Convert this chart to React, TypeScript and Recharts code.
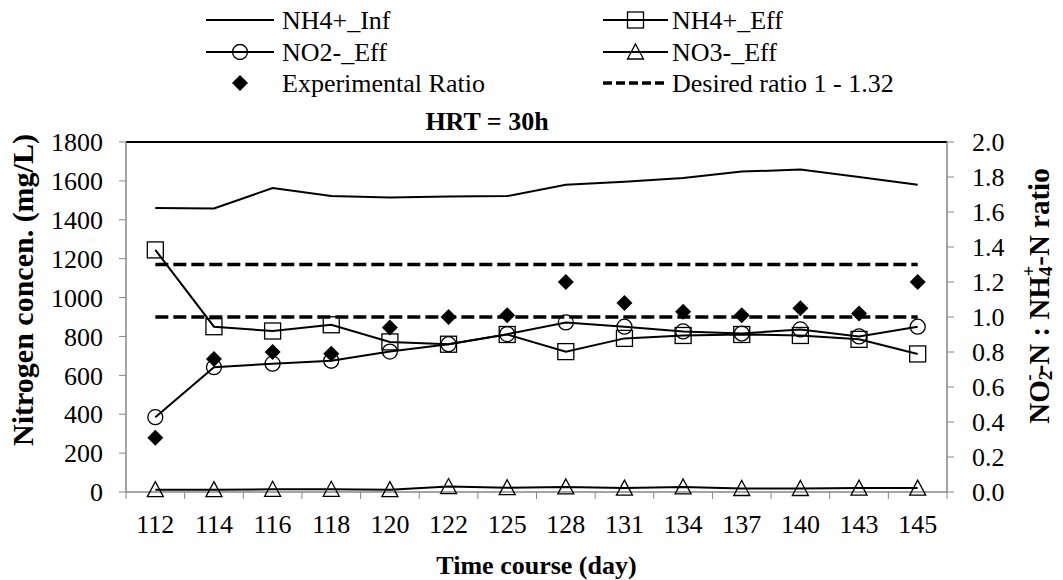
import {
  ComposedChart,
  Line,
  Scatter,
  XAxis,
  YAxis,
  ReferenceLine,
  Legend,
} from "recharts";

const DAYS = ["112", "114", "116", "118", "120", "122", "125", "128", "131", "134", "137", "140", "143", "145"];
const NH4_INF = [1460, 1458, 1563, 1522, 1515, 1520, 1522, 1580, 1595, 1615, 1648, 1658, 1620, 1580];
const NH4_EFF = [1245, 850, 828, 860, 772, 760, 810, 722, 790, 805, 810, 805, 785, 710];
const NO2_EFF = [385, 642, 660, 675, 722, 760, 812, 872, 850, 826, 815, 836, 800, 850];
const NO3_EFF = [12, 12, 14, 14, 12, 28, 22, 26, 20, 26, 18, 18, 20, 20];
const RATIO = [0.31, 0.76, 0.8, 0.79, 0.94, 1.0, 1.01, 1.2, 1.08, 1.03, 1.01, 1.05, 1.02, 1.2];
const DESIRED_LOW = 1.0;
const DESIRED_HIGH = 1.3;

const LEFT_TICKS = [0, 200, 400, 600, 800, 1000, 1200, 1400, 1600, 1800];
const RIGHT_TICKS = [0, 0.2, 0.4, 0.6, 0.8, 1.0, 1.2, 1.4, 1.6, 1.8, 2.0];

const W = 1063;
const H = 580;
const LEFT_W = 126;
const RIGHT_W = 116;
const TOP = 142;
const X_H = 88;
const BAND = (W - LEFT_W - RIGHT_W) / DAYS.length;
const FONT = "Liberation Serif, DejaVu Serif, Times New Roman, serif";
const GRAY = "#868686";

const data = DAYS.map((day, i) => ({
  day,
  nh4Inf: NH4_INF[i],
  nh4Eff: NH4_EFF[i],
  no2Eff: NO2_EFF[i],
  no3Eff: NO3_EFF[i],
  ratio: RATIO[i],
}));

const squareDot = (p: any) => (
  <rect key={`s${p.index}`} x={p.cx - 8} y={p.cy - 8} width={16} height={16} fill="none" stroke="#000" strokeWidth={1.3} />
);
const circleDot = (p: any) => (
  <circle key={`c${p.index}`} cx={p.cx} cy={p.cy} r={7.5} fill="none" stroke="#000" strokeWidth={1.3} />
);
const triangleDot = (p: any) => (
  <polygon
    key={`t${p.index}`}
    points={`${p.cx},${p.cy - 8} ${p.cx + 8},${p.cy + 7} ${p.cx - 8},${p.cy + 7}`}
    fill="none"
    stroke="#000"
    strokeWidth={1.3}
  />
);
const diamond = (p: any) => (
  <polygon points={`${p.cx},${p.cy - 8} ${p.cx + 8},${p.cy} ${p.cx},${p.cy + 8} ${p.cx - 8},${p.cy}`} fill="#000" />
);

// category labels sit in the middle of each band, tick marks on the band edges (Excel style)
const DayTick = ({ x, y, payload }: any) => {
  const last = payload.index === DAYS.length - 1;
  return (
    <g>
      <line x1={x - BAND / 2} x2={x - BAND / 2} y1={y} y2={y + 7} stroke={GRAY} />
      {last && <line x1={x + BAND / 2} x2={x + BAND / 2} y1={y} y2={y + 7} stroke={GRAY} />}
      <text x={x} y={y + 41} textAnchor="middle" fontSize={26} fontFamily={FONT} fill="#000">
        {payload.value}
      </text>
    </g>
  );
};

const LeftTitle = () => (
  <text
    x={22}
    y={290}
    transform="rotate(-90, 22, 290)"
    textAnchor="middle"
    dominantBaseline="central"
    fontSize={30}
    fontWeight="bold"
    fontFamily={FONT}
    fill="#000"
  >
    Nitrogen concen. (mg/L)
  </text>
);

const RightTitle = () => (
  <text
    x={1039}
    y={296}
    transform="rotate(-90, 1039, 296)"
    textAnchor="middle"
    dominantBaseline="central"
    fontSize={29}
    fontWeight="bold"
    fontFamily={FONT}
    fill="#000"
  >
    NO
    <tspan fontSize={19} dy={6}>2</tspan>
    <tspan fontSize={19} dx={-10} dy={-17}>-</tspan>
    <tspan dy={11}>-N : NH</tspan>
    <tspan fontSize={19} dy={6}>4</tspan>
    <tspan fontSize={19} dx={-10} dy={-17}>+</tspan>
    <tspan dy={11}>-N ratio</tspan>
  </text>
);

const COL1 = { x1: 206, x2: 274, tx: 282 };
const COL2 = { x1: 603, x2: 668, tx: 672 };
const ROWS = [20, 52, 83];

const LegendBlock = () => (
  <svg width={W} height={140} style={{ display: "block" }} fontFamily={FONT}>
    <line x1={COL1.x1} x2={COL1.x2} y1={ROWS[0]} y2={ROWS[0]} stroke="#000" strokeWidth={2} />
    <text x={COL1.tx} y={ROWS[0]} dominantBaseline="central" fontSize={26}>NH4+_Inf</text>
    <line x1={COL2.x1} x2={COL2.x2} y1={ROWS[0]} y2={ROWS[0]} stroke="#000" strokeWidth={2} />
    {squareDot({ cx: (COL2.x1 + COL2.x2) / 2, cy: ROWS[0], index: "l" })}
    <text x={COL2.tx} y={ROWS[0]} dominantBaseline="central" fontSize={26}>NH4+_Eff</text>

    <line x1={COL1.x1} x2={COL1.x2} y1={ROWS[1]} y2={ROWS[1]} stroke="#000" strokeWidth={2} />
    {circleDot({ cx: (COL1.x1 + COL1.x2) / 2, cy: ROWS[1], index: "l" })}
    <text x={COL1.tx} y={ROWS[1]} dominantBaseline="central" fontSize={26}>NO2-_Eff</text>
    <line x1={COL2.x1} x2={COL2.x2} y1={ROWS[1]} y2={ROWS[1]} stroke="#000" strokeWidth={2} />
    {triangleDot({ cx: (COL2.x1 + COL2.x2) / 2, cy: ROWS[1], index: "l" })}
    <text x={COL2.tx} y={ROWS[1]} dominantBaseline="central" fontSize={26}>NO3-_Eff</text>

    {diamond({ cx: (COL1.x1 + COL1.x2) / 2, cy: ROWS[2] })}
    <text x={COL1.tx} y={ROWS[2]} dominantBaseline="central" fontSize={26}>Experimental Ratio</text>
    <line x1={COL2.x1} x2={COL2.x2} y1={ROWS[2]} y2={ROWS[2]} stroke="#000" strokeWidth={3.5} strokeDasharray="9 4" />
    <text x={COL2.tx} y={ROWS[2]} dominantBaseline="central" fontSize={26}>Desired ratio 1 - 1.32</text>

    <text x={487} y={121} textAnchor="middle" dominantBaseline="central" fontSize={26} fontWeight="bold">
      HRT = 30h
    </text>
  </svg>
);

function Title() {
  return (
    <text
      x={536.5}
      y={565}
      textAnchor="middle"
      dominantBaseline="central"
      fontSize={26}
      fontWeight="bold"
      fontFamily={FONT}
      fill="#000"
    >
      Time course (day)
    </text>
  );
}

export default function App() {
  return (
    <div style={{ position: "absolute", left: 0, top: 0, width: W, height: H, background: "#fff", fontFamily: FONT }}>
      <ComposedChart width={W} height={H} data={data} margin={{ top: TOP, right: 0, bottom: 0, left: 0 }}>
        <XAxis
          dataKey="day"
          height={X_H}
          interval={0}
          padding={{ left: BAND / 2, right: BAND / 2 }}
          tickLine={false}
          tickSize={0}
          tickMargin={0}
          axisLine={{ stroke: GRAY, strokeWidth: 1.5 }}
          tick={<DayTick />}
          label={<Title />}
        />
        <YAxis
          yAxisId="left"
          width={LEFT_W}
          domain={[0, 1800]}
          ticks={LEFT_TICKS}
          interval={0}
          tickSize={7}
          tickMargin={16}
          axisLine={{ stroke: GRAY, strokeWidth: 1.5 }}
          tickLine={{ stroke: GRAY }}
          tick={{ fill: "#000", fontSize: 26, fontFamily: FONT }}
          label={<LeftTitle />}
        />
        <YAxis
          yAxisId="right"
          orientation="right"
          width={RIGHT_W}
          domain={[0, 2]}
          ticks={RIGHT_TICKS}
          interval={0}
          tickSize={7}
          tickMargin={18}
          tickFormatter={(v: number) => v.toFixed(1)}
          axisLine={{ stroke: GRAY, strokeWidth: 1.5 }}
          tickLine={{ stroke: GRAY }}
          tick={{ fill: "#000", fontSize: 26, fontFamily: FONT, textAnchor: "start" }}
          label={<RightTitle />}
        />
        <ReferenceLine yAxisId="left" y={1800} stroke="#000" strokeWidth={2} />
        <ReferenceLine
          yAxisId="right"
          segment={[{ x: DAYS[0], y: DESIRED_HIGH }, { x: DAYS[DAYS.length - 1], y: DESIRED_HIGH }]}
          stroke="#000"
          strokeWidth={3.5}
          strokeDasharray="13 5"
        />
        <ReferenceLine
          yAxisId="right"
          segment={[{ x: DAYS[0], y: DESIRED_LOW }, { x: DAYS[DAYS.length - 1], y: DESIRED_LOW }]}
          stroke="#000"
          strokeWidth={3.5}
          strokeDasharray="13 5"
        />
        <Line yAxisId="left" dataKey="nh4Inf" stroke="#000" strokeWidth={2} dot={false} isAnimationActive={false} />
        <Line yAxisId="left" dataKey="nh4Eff" stroke="#000" strokeWidth={2} dot={squareDot} isAnimationActive={false} />
        <Line yAxisId="left" dataKey="no2Eff" stroke="#000" strokeWidth={2} dot={circleDot} isAnimationActive={false} />
        <Line yAxisId="left" dataKey="no3Eff" stroke="#000" strokeWidth={2} dot={triangleDot} isAnimationActive={false} />
        <Scatter yAxisId="right" dataKey="ratio" shape={diamond} isAnimationActive={false} />
        <Legend
          layout="vertical"
          align="center"
          verticalAlign="middle"
          wrapperStyle={{ top: 0, left: 0, width: W, height: 140 }}
          content={() => <LegendBlock />}
        />
      </ComposedChart>
    </div>
  );
}
